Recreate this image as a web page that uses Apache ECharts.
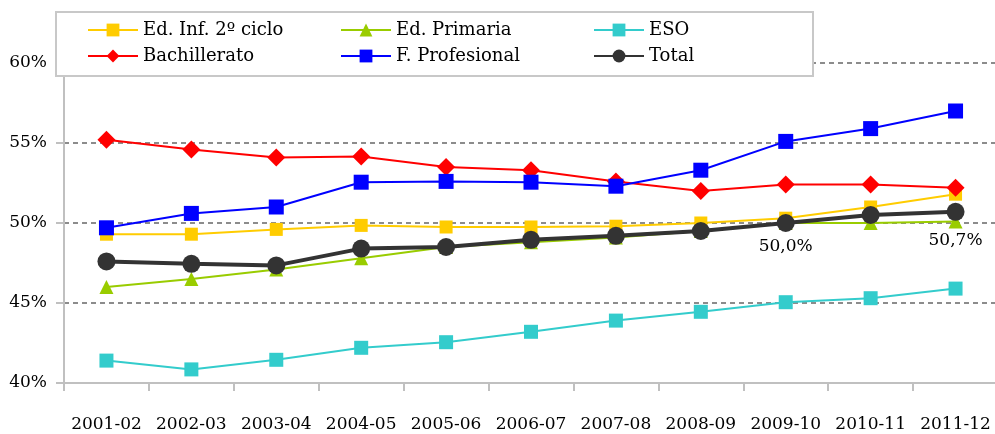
<!DOCTYPE html>
<html>
<head>
<meta charset="utf-8">
<title>Tasa de mujeres por enseñanza</title>
<script src="https://cdn.jsdelivr.net/npm/echarts/dist/echarts.min.js"></script>
<style>
    html, body { margin: 0; padding: 0; background: #fff; }
    .chart { width: 995px; height: 434px; }
</style>
</head>
<body>
<div class="chart"></div>
<script>
var cursos = ['2001-02', '2002-03', '2003-04', '2004-05', '2005-06', '2006-07', '2007-08', '2008-09', '2009-10', '2010-11', '2011-12'];
var edInfantil = [49.3, 49.3, 49.6, 49.85, 49.75, 49.75, 49.8, 50.0, 50.3, 51.0, 51.8];
var edPrimaria = [46.0, 46.5, 47.1, 47.8, 48.5, 48.8, 49.1, 49.5, 50.0, 50.0, 50.1];
var eso = [41.4, 40.85, 41.45, 42.2, 42.55, 43.2, 43.9, 44.45, 45.05, 45.3, 45.9];
var bachillerato = [55.2, 54.6, 54.1, 54.15, 53.5, 53.3, 52.6, 52.0, 52.4, 52.4, 52.2];
var fProfesional = [49.7, 50.6, 51.0, 52.55, 52.6, 52.55, 52.3, 53.3, 55.1, 55.9, 57.0];
var total = [47.6, 47.45, 47.35, 48.4, 48.5, 48.95, 49.2, 49.5, 50.0, 50.5, 50.7];
var totalLabels = { 8: 6, 10: 11 };   // index -> label distance

(function () {
    var myChart = echarts.init(document.querySelector('.chart'));
    var font = 'DejaVu Serif';
    var axisGray = '#c0c0c0';

    function line(name, data, color, symbol, size, width) {
        return {
            name: name,
            type: 'line',
            data: data,
            symbol: symbol,
            symbolSize: size,
            color: color,
            lineStyle: { width: width || 2, color: color },
            itemStyle: { color: color },
            animation: false
        };
    }

    var totalData = total.map(function (v, i) {
        if (totalLabels[i] === undefined) return v;
        return {
            value: v,
            label: {
                show: true,
                position: 'bottom',
                distance: totalLabels[i],
                formatter: function (p) {
                    return p.value.toFixed(1).replace('.', ',') + '%';
                },
                fontFamily: font,
                fontSize: 17,
                color: '#000'
            }
        };
    });

    var option = {
        backgroundColor: '#fff',
        textStyle: { fontFamily: font },
        grid: {
            left: 64,
            right: -3,
            top: 63,
            bottom: 51,
            containLabel: false,
            outerBoundsMode: 'none'
        },
        graphic: [{
            type: 'rect',
            z: 3,
            shape: { x: 56, y: 12, width: 757, height: 64 },
            style: { fill: '#fff', stroke: '#c8c8c8', lineWidth: 2 }
        }],
        legend: {
            left: 87,
            top: 21,
            padding: 0,
            width: 760,
            itemWidth: 50,
            itemHeight: 16,
            itemGap: 8,
            z: 4,
            data: ['Ed. Inf. 2º ciclo', 'Ed. Primaria', 'ESO', 'Bachillerato', 'F. Profesional', 'Total'],
            textStyle: {
                fontFamily: font,
                fontSize: 18,
                lineHeight: 17,
                color: '#000',
                width: 189
            }
        },
        xAxis: {
            type: 'category',
            data: cursos,
            boundaryGap: true,
            axisLine: { lineStyle: { color: axisGray, width: 2 } },
            axisTick: { show: true, length: 8, interval: 0, lineStyle: { color: axisGray, width: 2 } },
            axisLabel: { interval: 0, margin: 33, fontFamily: font, fontSize: 17, color: '#000' },
            splitLine: { show: false }
        },
        yAxis: {
            type: 'value',
            min: 40,
            max: 60,
            interval: 5,
            axisLine: { show: true, lineStyle: { color: axisGray, width: 2 } },
            axisTick: { show: true, length: 8, lineStyle: { color: axisGray, width: 2 } },
            axisLabel: {
                margin: 17,
                formatter: '{value}%',
                fontFamily: font,
                fontSize: 17,
                color: '#000'
            },
            splitLine: { show: true, lineStyle: { color: '#8c8c8c', width: 2, type: [5, 4] } }
        },
        series: [
            line('ESO', eso, '#33cccc', 'rect', 14),
            line('Ed. Primaria', edPrimaria, '#99cc00', 'triangle', 14),
            line('Ed. Inf. 2º ciclo', edInfantil, '#ffcc00', 'rect', 13),
            line('Bachillerato', bachillerato, '#ff0000', 'diamond', 18),
            line('F. Profesional', fProfesional, '#0000ff', 'rect', 15),
            line('Total', totalData, '#333333', 'circle', 18, 4)
        ]
    };
    myChart.setOption(option);
})();
</script>
</body>
</html>
